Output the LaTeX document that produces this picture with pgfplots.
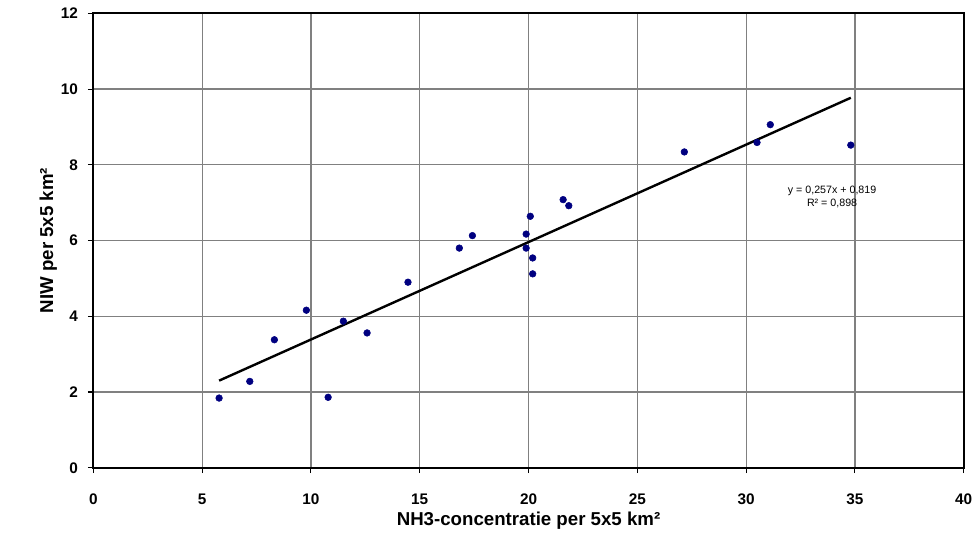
\documentclass[border=0pt]{standalone}
\usepackage{pgfplots}
\pgfplotsset{compat=1.18}
\usepackage{fontspec}
\setmainfont{Liberation Sans}
\usetikzlibrary{calc}
\definecolor{navy}{RGB}{0,0,128}
\definecolor{gridgray}{RGB}{128,128,128}

\begin{document}
\begin{tikzpicture}
\begin{axis}[
  scale only axis,
  width=652.8pt, height=340.8pt,
  xmin=0, xmax=40, ymin=0, ymax=12,
  xtick={0,5,...,40}, ytick={0,2,...,12},
  grid=major,
  major grid style={gridgray, line width=0.9pt},
  axis line style={black, line width=1.3pt},
  tick align=outside,
  xtick pos=bottom, ytick pos=left,
  major tick length=4pt,
  tick style={black, line width=0.8pt},
  /pgf/number format/assume math mode=true,
  ticklabel style={font=\fontsize{11.5}{13}\selectfont\bfseries},
  xticklabel style={yshift=-12pt, text height=8pt, text depth=0pt},
  yticklabel style={xshift=-4pt},
  xlabel={NH3-concentratie per 5x5 km²},
  ylabel={NIW per 5x5 km²},
  label style={font=\fontsize{14}{16}\selectfont\bfseries},
  xlabel style={yshift=1pt},
  ylabel style={yshift=-4pt},
  clip=false,
]
\addplot[only marks, mark=*, mark size=2.5pt, mark options={fill=navy, draw=navy}] coordinates {
  (5.78,1.84) (7.19,2.28) (8.32,3.38) (9.79,4.16) (10.79,1.86)
  (11.49,3.87) (12.58,3.56) (14.46,4.90) (16.82,5.80) (17.42,6.13)
  (19.89,6.17) (19.89,5.80) (20.08,6.64) (20.19,5.54) (20.19,5.12)
  (21.59,7.08) (21.85,6.92) (27.16,8.34) (30.50,8.59) (31.11,9.06)
  (34.81,8.52)
};
\addplot[black, line width=1.8pt] coordinates {(5.78,2.30) (34.81,9.77)};
\node[align=center, font=\fontsize{8}{9.5}\selectfont, inner sep=0pt] at (axis cs:33.95,7.15) {y = 0,257x + 0,819\\R² = 0,898};
\end{axis}
\pgfresetboundingbox
\path[use as bounding box] ($(current axis.south west)+(-70pt,-58.7pt)$) rectangle ($(current axis.north east)+(12.2pt,10pt)$);
\end{tikzpicture}
\end{document}
